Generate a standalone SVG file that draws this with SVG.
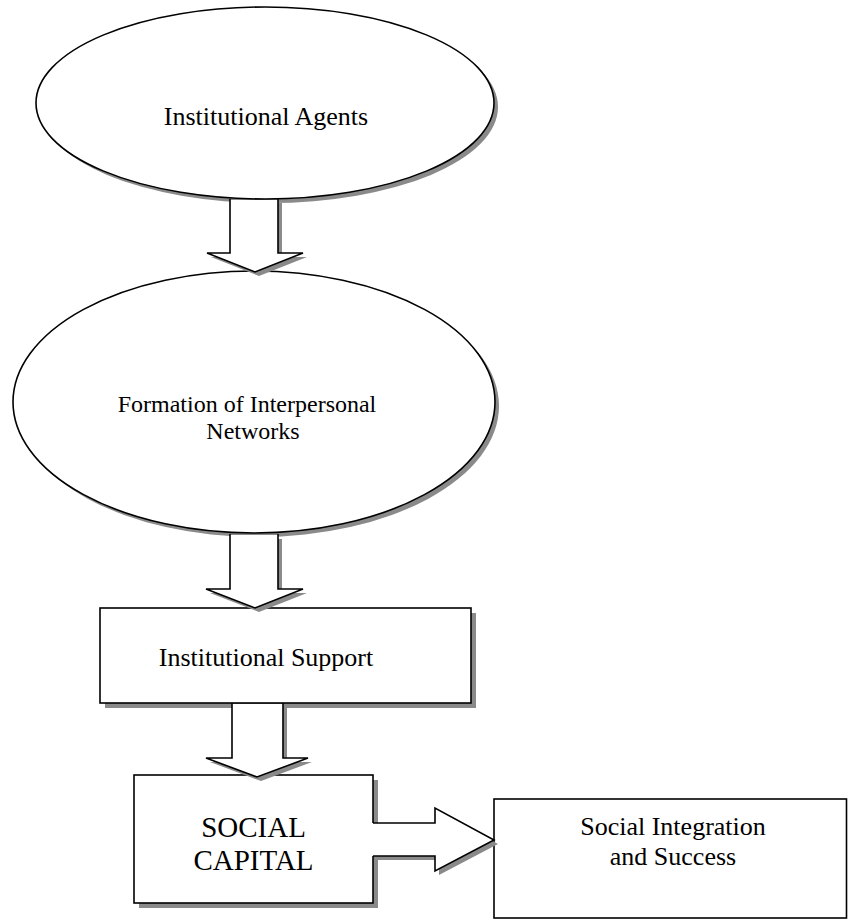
<svg xmlns="http://www.w3.org/2000/svg" xmlns:xlink="http://www.w3.org/1999/xlink" width="848" height="920" viewBox="0 0 848 920">
<style>
.sh{fill:#8a8a8a;stroke:none}
.nd{fill:#fff;stroke:#000;stroke-width:1.6}
.af{fill:#fff;stroke:none}
.as{fill:none;stroke:#000;stroke-width:1.6;stroke-linejoin:miter}
text{font-family:"Liberation Serif","Times New Roman",serif;fill:#000}
</style>
<rect width="848" height="920" fill="#fff"/>
<g id="n1">
<ellipse class="sh" cx="269" cy="107" rx="229" ry="96"/>
<ellipse class="nd" cx="265" cy="103" rx="229" ry="96"/>
<text x="266" y="125" font-size="26" text-anchor="middle">Institutional Agents</text>
</g>
<g id="n2">
<ellipse class="sh" cx="258" cy="406" rx="241" ry="131"/>
<ellipse class="nd" cx="254" cy="402" rx="241" ry="131"/>
<text x="247" y="412" font-size="24" text-anchor="middle">Formation of Interpersonal</text>
<text x="253" y="439" font-size="24" text-anchor="middle">Networks</text>
</g>
<g id="n3">
<rect class="sh" x="105" y="613" width="371" height="95"/>
<rect class="nd" x="100" y="608" width="371" height="95"/>
<text x="266" y="666" font-size="26" text-anchor="middle">Institutional Support</text>
</g>
<g id="n4">
<rect class="sh" x="139" y="780" width="239" height="128"/>
<rect class="nd" x="134" y="775" width="239" height="128"/>
<text x="253.5" y="837" font-size="29" text-anchor="middle">SOCIAL</text>
<text x="253.5" y="870" font-size="29" text-anchor="middle">CAPITAL</text>
</g>
<g id="n5">
<rect class="nd" x="494" y="799" width="352.5" height="119"/>
<text x="673" y="835" font-size="26" text-anchor="middle">Social Integration</text>
<text x="673" y="865" font-size="26" text-anchor="middle">and Success</text>
</g>
<g id="connectors">
<g id="a1">
<polygon class="sh" points="234,203 234,257 211,257 259,276 307,257 282,257 282,203"/>
<polygon class="af" points="230,200 230,253 207,253 255,272 303,253 278,253 278,200"/>
<polyline class="as" points="230,199 230,253 207,253 255,272 303,253 278,253 278,199"/>
</g>
<g id="a2">
<polygon class="sh" points="234,539 234,593 210,593 259,612 307,593 282,593 282,539"/>
<polygon class="af" points="230,535 230,589 206,589 255,608 303,589 278,589 278,535"/>
<polyline class="as" points="230,534 230,589 206,589 255,608 303,589 278,589 278,534"/>
</g>
<g id="a3">
<polygon class="sh" points="236,707 236,762 210,762 261,781 312,762 287,762 287,707"/>
<polygon class="af" points="232,704 232,758 206,758 257,777 308,758 283,758 283,704"/>
<polyline class="as" points="232,703 232,758 206,758 257,777 308,758 283,758 283,703"/>
</g>
<g id="a4">
<polygon class="sh" points="377,827 439,827 439,812 498,844 439,875 439,860 377,860"/>
<polygon class="af" points="372,823 435,823 435,808 494,840 435,871 435,856 372,856"/>
<polyline class="as" points="373,823 435,823 435,808 494,840 435,871 435,856 373,856"/>
</g>
</g>
</svg>
